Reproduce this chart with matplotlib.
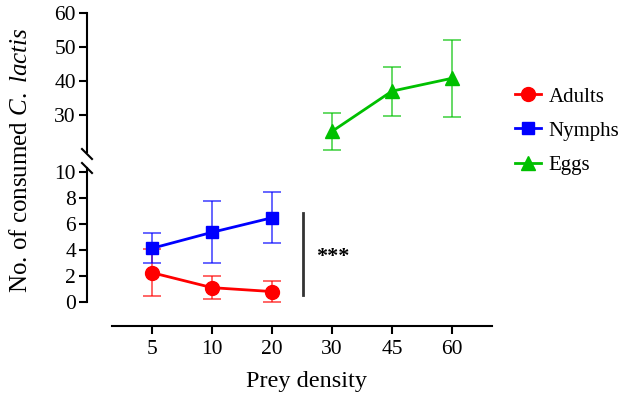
import matplotlib
matplotlib.use("Agg")
import matplotlib.pyplot as plt
from matplotlib.lines import Line2D

plt.rcParams['font.family'] = ['Liberation Serif', 'DejaVu Serif']
plt.rcParams['mathtext.fontset'] = 'custom'
plt.rcParams['mathtext.rm'] = 'Liberation Serif'
plt.rcParams['mathtext.it'] = 'Liberation Serif:italic'

# data
densities = ['5', '10', '20', '30', '45', '60']
adults_mean = [2.25, 1.1, 0.8]
adults_err = [1.8, 0.9, 0.8]
nymphs_mean = [4.13, 5.36, 6.48]
nymphs_err = [1.15, 2.4, 1.96]
eggs_mean = [25.0, 36.9, 40.7]
eggs_err = [5.5, 7.2, 11.3]

red = '#ff0000'
blue = '#0000ff'
green = '#00c000'


def main():
    fig = plt.figure(figsize=(6.24, 3.96), dpi=100)
    left, width = 112 / 624, 380 / 624
    ax_lo = fig.add_axes([left, 1 - 326 / 396, width, (326 - 166.8) / 396])
    ax_hi = fig.add_axes([left, 1 - 152.4 / 396, width, 139.4 / 396])

    xa = [0, 1, 2]
    xe = [3, 4, 5]

    def series(ax, x, m, e, color, marker, ms):
        ax.errorbar(x, m, yerr=e, fmt='none', ecolor=color, alpha=0.7,
                    elinewidth=1.2, capsize=6.5, capthick=1.2, zorder=2)
        ax.plot(x, m, color=color, marker=marker, ms=ms, lw=2, zorder=3)

    series(ax_lo, xa, adults_mean, adults_err, red, 'o', 10)
    series(ax_lo, xa, nymphs_mean, nymphs_err, blue, 's', 9)
    series(ax_hi, xe, eggs_mean, eggs_err, green, '^', 10)

    for ax in (ax_lo, ax_hi):
        ax.set_xlim(-0.67, 5.67)
        ax.spines['top'].set_visible(False)
        ax.spines['right'].set_visible(False)
        ax.spines['left'].set_position(('outward', 18))
        for s in ax.spines.values():
            s.set_linewidth(1.5)
        ax.tick_params(axis='both', length=6, width=1.5, labelsize=15.5)
        ax.tick_params(axis='y', pad=2)

    ax_lo.set_ylim(-1.85, 10.4)
    ax_lo.spines['left'].set_bounds(0, 10.3)
    ax_lo.set_yticks([0, 2, 4, 6, 8, 10])
    ax_lo.set_xticks(range(len(densities)))
    ax_lo.set_xticklabels(densities)
    ax_lo.tick_params(axis='x', pad=4)

    ax_hi.set_ylim(18.8, 60)
    ax_hi.set_yticks([30, 40, 50, 60])
    ax_hi.spines['bottom'].set_visible(False)
    ax_hi.set_xticks([])
    ax_hi.patch.set_visible(False)

    # break marks on the y axis
    for yb in (154, 168):
        fig.add_artist(Line2D([82 / 624, 92 / 624],
                              [1 - (yb - 5) / 396, 1 - (yb + 5) / 396],
                              color='black', lw=1.5))

    # significance bar
    ax_lo.plot([2.52, 2.52], [0.54, 6.85], color='#333333', lw=2, clip_on=False)
    ax_lo.text(3.02, 3.46, '***', ha='center', va='center', fontsize=16,
               fontweight='bold')

    fig.text(21 / 624, 1 - 160 / 396, r'No. of consumed $\it{C.\ lactis}$',
             rotation=90, ha='center', va='center', fontsize=18)
    fig.text(307 / 624, 1 - 381 / 396, 'Prey density', ha='center',
             va='center', fontsize=17.5)

    handles = [
        Line2D([], [], color=red, marker='o', ms=10, lw=2),
        Line2D([], [], color=blue, marker='s', ms=9, lw=2),
        Line2D([], [], color=green, marker='^', ms=10, lw=2),
    ]
    fig.legend(handles, ['Adults', 'Nymphs', 'Eggs'], loc='upper left',
               bbox_to_anchor=(515 / 624, 1 - 87 / 396), frameon=False,
               fontsize=15, borderpad=0, borderaxespad=0, handlelength=1.25,
               handletextpad=0.35, labelspacing=0.7)

    fig.savefig('out.png', dpi=100)


if __name__ == "__main__":
    main()
